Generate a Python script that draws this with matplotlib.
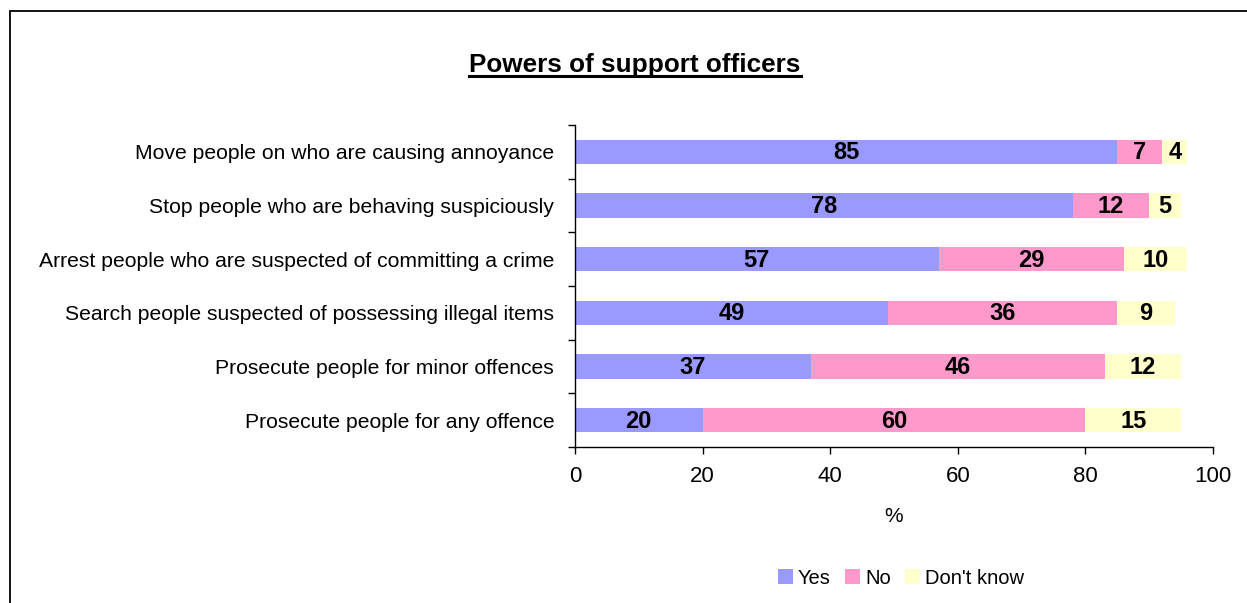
import matplotlib
matplotlib.use("Agg")
import matplotlib.pyplot as plt
import numpy as np
from matplotlib.patches import Rectangle
from matplotlib.lines import Line2D

CATEGORIES = [
    "Move people on who are causing annoyance",
    "Stop people who are behaving suspiciously",
    "Arrest people who are suspected of committing a crime",
    "Search people suspected of possessing illegal items",
    "Prosecute people for minor offences",
    "Prosecute people for any offence",
]
YES  = [85, 78, 57, 49, 37, 20]
NO   = [7, 12, 29, 36, 46, 60]
DK   = [4, 5, 10, 9, 12, 15]
SERIES_NAMES  = ["Yes", "No", "Don't know"]
SERIES_COLORS = ["#9999FF", "#FF99CC", "#FFFFCC"]
X_TICKS = [0, 20, 40, 60, 80, 100]

plt.rcParams["font.family"] = "Liberation Sans"

W, H = 1247, 603
fig = plt.figure(figsize=(W / 100, H / 100), dpi=100, facecolor="white")

# chart area border (runs off the right and bottom edges)
fig.patches.append(Rectangle((10 / W, -0.1), 1.2, (H - 11) / H + 0.1,
                             transform=fig.transFigure, fill=False,
                             edgecolor="black", linewidth=1.3))

ax = fig.add_axes([575 / W, 156 / H, 638 / W, 322 / H])
y = np.arange(len(CATEGORIES))
left = np.zeros(len(CATEGORIES))
for vals, name, col in zip([YES, NO, DK], SERIES_NAMES, SERIES_COLORS):
    vals = np.array(vals, dtype=float)
    ax.barh(y, vals, left=left, height=0.45, color=col, label=name,
            edgecolor="none")
    for yi, l, v in zip(y, left, vals):
        ax.text(l + v / 2, yi + 0.02, f"{int(v)}", ha="center", va="center",
                fontsize=17, fontweight="bold")
    left += vals

ax.set_ylim(len(CATEGORIES) - 0.5, -0.5)
ax.set_xlim(0, 100)
ax.set_yticks(y)
ax.set_yticklabels(CATEGORIES, fontsize=15.2)
ax.set_yticks(np.arange(-0.5, len(CATEGORIES)), minor=True)
ax.tick_params(axis="y", which="major", length=0, pad=15)
ax.tick_params(axis="y", which="minor", length=5, width=1, direction="out")
ax.set_xticks(X_TICKS)
ax.set_xticklabels([str(t) for t in X_TICKS], fontsize=16)
ax.tick_params(axis="x", length=5, width=1, direction="out", pad=9)
for s in ["top", "right"]:
    ax.spines[s].set_visible(False)
for s in ["left", "bottom"]:
    ax.spines[s].set_linewidth(1)
ax.set_xlabel("%", fontsize=15, labelpad=14)

title = fig.text(635 / W, 1 - 65 / H, "Powers of support officers",
                 ha="center", va="center", fontsize=18.8, fontweight="bold")

leg = fig.legend(loc="center", bbox_to_anchor=(901 / W, 1 - 578 / H),
                 ncol=3, frameon=False, fontsize=14.5, handlelength=0.75,
                 handleheight=0.75, handletextpad=0.25, columnspacing=0.7)

# underline the title
fig.canvas.draw()
bb = title.get_window_extent()
uy = bb.y0 + 1
fig.add_artist(Line2D([bb.x0 / W, bb.x1 / W], [uy / H, uy / H],
                      transform=fig.transFigure, color="black", linewidth=2.2))

fig.savefig("out.png", dpi=100, facecolor="white")
